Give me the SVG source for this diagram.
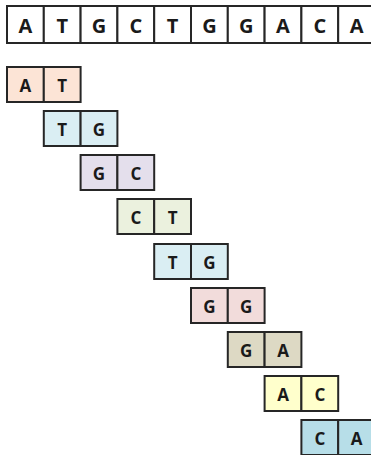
<svg xmlns="http://www.w3.org/2000/svg" width="371" height="455" viewBox="0 0 371 455">
  <style>
    .cell { stroke: #262626; stroke-width: 2; }
    .seq { fill: #ffffff; }
    .lbl { font-family: "Open Sans", "Liberation Sans", Arial, sans-serif; font-weight: 700; fill: #1a1a1a; text-anchor: middle; dominant-baseline: central; }
    .big { font-size: 20px; }
    .small { font-size: 17px; }
  </style>
  <rect width="371" height="455" fill="#ffffff"/>

  <!-- full sequence -->
  <g id="sequence">
    <rect class="cell seq" x="7" y="6" width="36.8" height="37"/>
    <rect class="cell seq" x="43.8" y="6" width="36.8" height="37"/>
    <rect class="cell seq" x="80.6" y="6" width="36.8" height="37"/>
    <rect class="cell seq" x="117.4" y="6" width="36.8" height="37"/>
    <rect class="cell seq" x="154.2" y="6" width="36.8" height="37"/>
    <rect class="cell seq" x="191" y="6" width="36.8" height="37"/>
    <rect class="cell seq" x="227.8" y="6" width="36.8" height="37"/>
    <rect class="cell seq" x="264.6" y="6" width="36.8" height="37"/>
    <rect class="cell seq" x="301.4" y="6" width="36.8" height="37"/>
    <rect class="cell seq" x="338.2" y="6" width="36.8" height="37"/>
    <text class="lbl big" x="25.4" y="25">A</text>
    <text class="lbl big" x="62.2" y="25">T</text>
    <text class="lbl big" x="99" y="25">G</text>
    <text class="lbl big" x="135.8" y="25">C</text>
    <text class="lbl big" x="172.6" y="25">T</text>
    <text class="lbl big" x="209.4" y="25">G</text>
    <text class="lbl big" x="246.2" y="25">G</text>
    <text class="lbl big" x="283" y="25">A</text>
    <text class="lbl big" x="319.8" y="25">C</text>
    <text class="lbl big" x="356.6" y="25">A</text>
  </g>

  <!-- overlapping 2-mers -->
  <g id="kmer1">
    <rect class="cell" x="7" y="67" width="36.8" height="35" fill="#fce4d6"/>
    <rect class="cell" x="43.8" y="67" width="36.8" height="35" fill="#fce4d6"/>
    <text class="lbl small" x="25.4" y="85">A</text>
    <text class="lbl small" x="62.2" y="85">T</text>
  </g>
  <g id="kmer2">
    <rect class="cell" x="43.8" y="111" width="36.8" height="35" fill="#daeef3"/>
    <rect class="cell" x="80.6" y="111" width="36.8" height="35" fill="#daeef3"/>
    <text class="lbl small" x="62.2" y="129">T</text>
    <text class="lbl small" x="99" y="129">G</text>
  </g>
  <g id="kmer3">
    <rect class="cell" x="80.6" y="155" width="36.8" height="35" fill="#e4dfec"/>
    <rect class="cell" x="117.4" y="155" width="36.8" height="35" fill="#e4dfec"/>
    <text class="lbl small" x="99" y="173">G</text>
    <text class="lbl small" x="135.8" y="173">C</text>
  </g>
  <g id="kmer4">
    <rect class="cell" x="117.4" y="199" width="36.8" height="35" fill="#ebf1de"/>
    <rect class="cell" x="154.2" y="199" width="36.8" height="35" fill="#ebf1de"/>
    <text class="lbl small" x="135.8" y="217">C</text>
    <text class="lbl small" x="172.6" y="217">T</text>
  </g>
  <g id="kmer5">
    <rect class="cell" x="154.2" y="244" width="36.8" height="35" fill="#daeef3"/>
    <rect class="cell" x="191" y="244" width="36.8" height="35" fill="#daeef3"/>
    <text class="lbl small" x="172.6" y="262">T</text>
    <text class="lbl small" x="209.4" y="262">G</text>
  </g>
  <g id="kmer6">
    <rect class="cell" x="191" y="288" width="36.8" height="35" fill="#f2dcdb"/>
    <rect class="cell" x="227.8" y="288" width="36.8" height="35" fill="#f2dcdb"/>
    <text class="lbl small" x="209.4" y="306">G</text>
    <text class="lbl small" x="246.2" y="306">G</text>
  </g>
  <g id="kmer7">
    <rect class="cell" x="227.8" y="332" width="36.8" height="35" fill="#ddd9c4"/>
    <rect class="cell" x="264.6" y="332" width="36.8" height="35" fill="#ddd9c4"/>
    <text class="lbl small" x="246.2" y="350">G</text>
    <text class="lbl small" x="283" y="350">A</text>
  </g>
  <g id="kmer8">
    <rect class="cell" x="264.6" y="376" width="36.8" height="35" fill="#ffffcc"/>
    <rect class="cell" x="301.4" y="376" width="36.8" height="35" fill="#ffffcc"/>
    <text class="lbl small" x="283" y="394">A</text>
    <text class="lbl small" x="319.8" y="394">C</text>
  </g>
  <g id="kmer9">
    <rect class="cell" x="301.4" y="420" width="36.8" height="35" fill="#b7dee8"/>
    <rect class="cell" x="338.2" y="420" width="36.8" height="35" fill="#b7dee8"/>
    <text class="lbl small" x="319.8" y="438">C</text>
    <text class="lbl small" x="356.6" y="438">A</text>
  </g>

  <g id="connectors"/>
</svg>
